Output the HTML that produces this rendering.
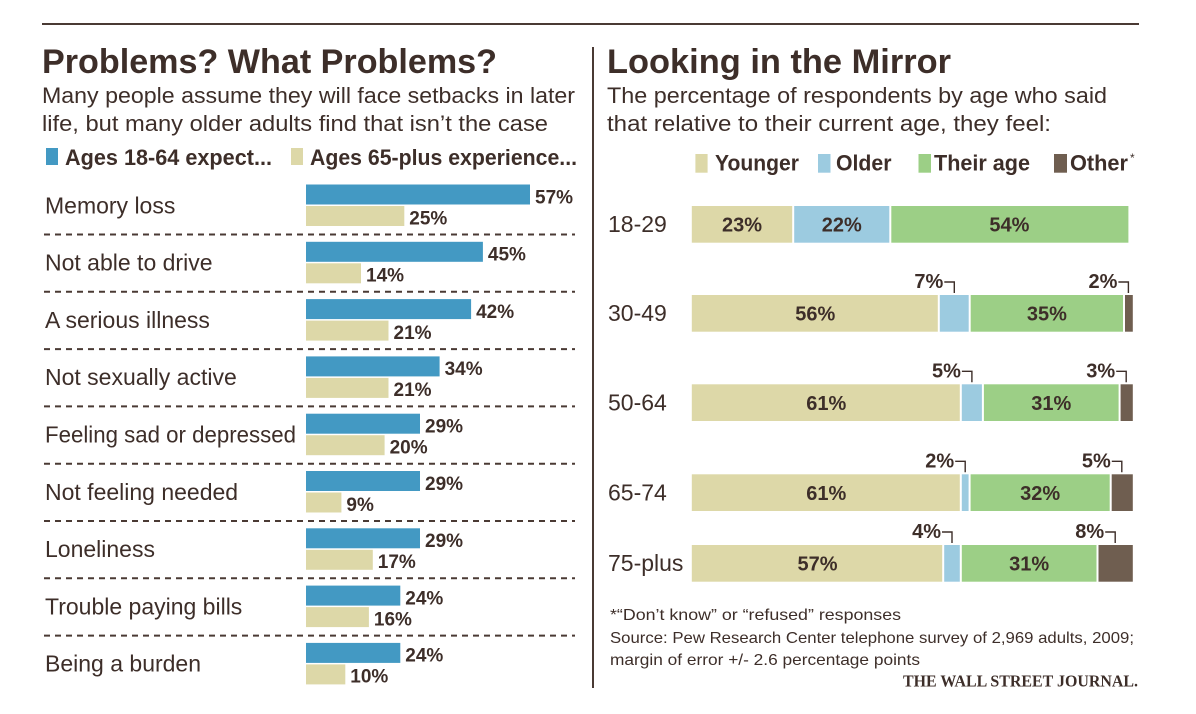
<!DOCTYPE html>
<html><head><meta charset="utf-8"><style>
html,body{margin:0;padding:0;background:#fff;}
svg{display:block;}
text{font-family:"Liberation Sans",sans-serif;fill:#3d2e29;}
.b{font-weight:bold;}
</style></head><body>
<svg width="1196" height="714" viewBox="0 0 1196 714" xmlns="http://www.w3.org/2000/svg">
<rect width="1196" height="714" fill="#fff"/>
<line x1="42" y1="24" x2="1139" y2="24" stroke="#4a3a34" stroke-width="2"/>
<line x1="593" y1="47" x2="593" y2="688" stroke="#4a3a34" stroke-width="2"/>

<!-- LEFT -->
<text x="42" y="73" class="b" font-size="34" textLength="455" lengthAdjust="spacingAndGlyphs">Problems? What Problems?</text>
<text x="42" y="103" font-size="22" textLength="533" lengthAdjust="spacingAndGlyphs">Many people assume they will face setbacks in later</text>
<text x="42" y="131" font-size="22" textLength="506" lengthAdjust="spacingAndGlyphs">life, but many older adults find that isn’t the  case</text>
<rect x="46" y="148" width="12" height="17" fill="#4399c3"/>
<text x="65" y="165" class="b" font-size="22" textLength="207" lengthAdjust="spacingAndGlyphs">Ages 18-64 expect...</text>
<rect x="291" y="148" width="12" height="17" fill="#ddd8a8"/>
<text x="310" y="165" class="b" font-size="22" textLength="267" lengthAdjust="spacingAndGlyphs">Ages 65-plus experience...</text>

<g font-size="23">
<text x="45" y="213.3">Memory loss</text>
<text x="45" y="270.6">Not able to drive</text>
<text x="45" y="327.9">A serious illness</text>
<text x="45" y="385.2">Not sexually active</text>
<text x="45" y="442.5" textLength="251" lengthAdjust="spacingAndGlyphs">Feeling sad or depressed</text>
<text x="45" y="499.8">Not feeling needed</text>
<text x="45" y="557.1">Loneliness</text>
<text x="45" y="614.4">Trouble paying bills</text>
<text x="45" y="671.7">Being a burden</text>
</g>

<g fill="#4399c3">
<rect x="306" y="184.5" width="224" height="20"/>
<rect x="306" y="241.8" width="176.9" height="20"/>
<rect x="306" y="299.1" width="165.1" height="20"/>
<rect x="306" y="356.4" width="133.6" height="20"/>
<rect x="306" y="413.7" width="114" height="20"/>
<rect x="306" y="471" width="114" height="20"/>
<rect x="306" y="528.3" width="114" height="20"/>
<rect x="306" y="585.6" width="94.3" height="20"/>
<rect x="306" y="642.9" width="94.3" height="20"/>
</g>
<g fill="#ddd8a8">
<rect x="306" y="206" width="98.3" height="20"/>
<rect x="306" y="263.3" width="55" height="20"/>
<rect x="306" y="320.6" width="82.5" height="20"/>
<rect x="306" y="377.9" width="82.5" height="20"/>
<rect x="306" y="435.2" width="78.6" height="20"/>
<rect x="306" y="492.5" width="35.4" height="20"/>
<rect x="306" y="549.8" width="66.8" height="20"/>
<rect x="306" y="607.1" width="62.9" height="20"/>
<rect x="306" y="664.4" width="39.3" height="20"/>
</g>
<g class="b" font-size="19">
<text x="535" y="203.3">57%</text><text x="409.3" y="224.3">25%</text>
<text x="487.9" y="260.6">45%</text><text x="366" y="281.6">14%</text>
<text x="476.1" y="317.9">42%</text><text x="393.5" y="338.9">21%</text>
<text x="444.6" y="375.2">34%</text><text x="393.5" y="396.2">21%</text>
<text x="425" y="432.5">29%</text><text x="389.6" y="453.5">20%</text>
<text x="425" y="489.8">29%</text><text x="346.4" y="510.8">9%</text>
<text x="425" y="547.1">29%</text><text x="377.8" y="568.1">17%</text>
<text x="405.3" y="604.4">24%</text><text x="373.9" y="625.4">16%</text>
<text x="405.3" y="661.7">24%</text><text x="350.3" y="682.7">10%</text>
</g>
<g stroke="#4a3a34" stroke-width="2" stroke-dasharray="6 5">
<line x1="44" y1="234.5" x2="575" y2="234.5"/>
<line x1="44" y1="291.8" x2="575" y2="291.8"/>
<line x1="44" y1="349.1" x2="575" y2="349.1"/>
<line x1="44" y1="406.4" x2="575" y2="406.4"/>
<line x1="44" y1="463.7" x2="575" y2="463.7"/>
<line x1="44" y1="521" x2="575" y2="521"/>
<line x1="44" y1="578.3" x2="575" y2="578.3"/>
<line x1="44" y1="635.6" x2="575" y2="635.6"/>
</g>

<!-- RIGHT -->
<text x="607" y="73" class="b" font-size="34" textLength="344" lengthAdjust="spacingAndGlyphs">Looking in the Mirror</text>
<text x="607" y="103" font-size="22" textLength="500" lengthAdjust="spacingAndGlyphs">The percentage of respondents by age who said</text>
<text x="607" y="131" font-size="22" textLength="444" lengthAdjust="spacingAndGlyphs">that relative to their current age, they feel:</text>

<rect x="695.4" y="154" width="12.2" height="18.7" fill="#ddd8a8"/>
<text x="715" y="170.7" class="b" font-size="22" textLength="84" lengthAdjust="spacingAndGlyphs">Younger</text>
<rect x="818" y="154" width="12.5" height="18.7" fill="#9ccbe0"/>
<text x="836" y="170.7" class="b" font-size="22" textLength="55.5" lengthAdjust="spacingAndGlyphs">Older</text>
<rect x="918.5" y="154" width="12.5" height="18.7" fill="#9ccf86"/>
<text x="934" y="170.7" class="b" font-size="22" textLength="96" lengthAdjust="spacingAndGlyphs">Their age</text>
<rect x="1054" y="154" width="13" height="18.7" fill="#6f5e50"/>
<text x="1070" y="170.7" class="b" font-size="22" textLength="58" lengthAdjust="spacingAndGlyphs">Other</text>
<text x="1130" y="162" font-size="12">*</text>

<g font-size="23">
<text x="608" y="232">18-29</text>
<text x="608" y="321">30-49</text>
<text x="608" y="410.3">50-64</text>
<text x="608" y="500.3">65-74</text>
<text x="608" y="571">75-plus</text>
</g>

<!-- 18-29 -->
<rect x="691.8" y="206" width="100.4" height="36.7" fill="#ddd8a8"/>
<rect x="794.2" y="206" width="95.1" height="36.7" fill="#9ccbe0"/>
<rect x="891.3" y="206" width="237.1" height="36.7" fill="#9ccf86"/>
<!-- 30-49 -->
<rect x="691.8" y="295" width="246" height="36.7" fill="#ddd8a8"/>
<rect x="939.8" y="295" width="28.9" height="36.7" fill="#9ccbe0"/>
<rect x="970.7" y="295" width="152.3" height="36.7" fill="#9ccf86"/>
<rect x="1125" y="295" width="7.8" height="36.7" fill="#6f5e50"/>
<!-- 50-64 -->
<rect x="691.8" y="384.3" width="268" height="36.7" fill="#ddd8a8"/>
<rect x="961.8" y="384.3" width="20.1" height="36.7" fill="#9ccbe0"/>
<rect x="983.9" y="384.3" width="134.7" height="36.7" fill="#9ccf86"/>
<rect x="1120.6" y="384.3" width="12.2" height="36.7" fill="#6f5e50"/>
<!-- 65-74 -->
<rect x="691.8" y="474.3" width="268" height="36.7" fill="#ddd8a8"/>
<rect x="961.8" y="474.3" width="6.8" height="36.7" fill="#9ccbe0"/>
<rect x="970.6" y="474.3" width="139.1" height="36.7" fill="#9ccf86"/>
<rect x="1111.7" y="474.3" width="21.1" height="36.7" fill="#6f5e50"/>
<!-- 75-plus -->
<rect x="691.8" y="545" width="250.4" height="36.7" fill="#ddd8a8"/>
<rect x="944.2" y="545" width="15.6" height="36.7" fill="#9ccbe0"/>
<rect x="961.8" y="545" width="134.7" height="36.7" fill="#9ccf86"/>
<rect x="1098.5" y="545" width="34.3" height="36.7" fill="#6f5e50"/>

<g class="b" font-size="20" text-anchor="middle">
<text x="742" y="231.5">23%</text>
<text x="841.8" y="231.5">22%</text>
<text x="1009.4" y="231.5">54%</text>
<text x="815.3" y="320.5">56%</text>
<text x="1046.9" y="320.5">35%</text>
<text x="826.3" y="409.8">61%</text>
<text x="1051.3" y="409.8">31%</text>
<text x="826.3" y="499.8">61%</text>
<text x="1040.2" y="499.8">32%</text>
<text x="817.5" y="570.5">57%</text>
<text x="1029.2" y="570.5">31%</text>
</g>

<g class="b" font-size="20" text-anchor="end">
<text x="943.3" y="288">7%</text>
<text x="1117.4" y="288">2%</text>
<text x="960.9" y="377.3">5%</text>
<text x="1115.2" y="377.3">3%</text>
<text x="954.2" y="467.3">2%</text>
<text x="1110.8" y="467.3">5%</text>
<text x="941" y="538">4%</text>
<text x="1104.2" y="538">8%</text>
</g>
<g fill="none" stroke="#3d2e29" stroke-width="1.4">
<path d="M944.3 282 H954.3 V293"/>
<path d="M1118.4 282 H1128.4 V293"/>
<path d="M961.9 371.3 H971.9 V382.3"/>
<path d="M1116.2 371.3 H1126.2 V382.3"/>
<path d="M955.2 461.3 H965.2 V472.3"/>
<path d="M1111.8 461.3 H1121.8 V472.3"/>
<path d="M942 532 H952 V543"/>
<path d="M1105.2 532 H1115.2 V543"/>
</g>

<g font-size="16">
<text x="610" y="620" textLength="291" lengthAdjust="spacingAndGlyphs">*“Don’t know” or “refused” responses</text>
<text x="610" y="643" textLength="524" lengthAdjust="spacingAndGlyphs">Source: Pew Research Center telephone survey of 2,969 adults, 2009;</text>
<text x="610" y="665" textLength="310" lengthAdjust="spacingAndGlyphs">margin of error +/- 2.6 percentage points</text>
</g>
<text x="903" y="686.5" style="font-family:'Liberation Serif',serif" font-weight="bold" font-size="17" textLength="235" lengthAdjust="spacingAndGlyphs">THE WALL STREET JOURNAL.</text>
</svg>
</body></html>
